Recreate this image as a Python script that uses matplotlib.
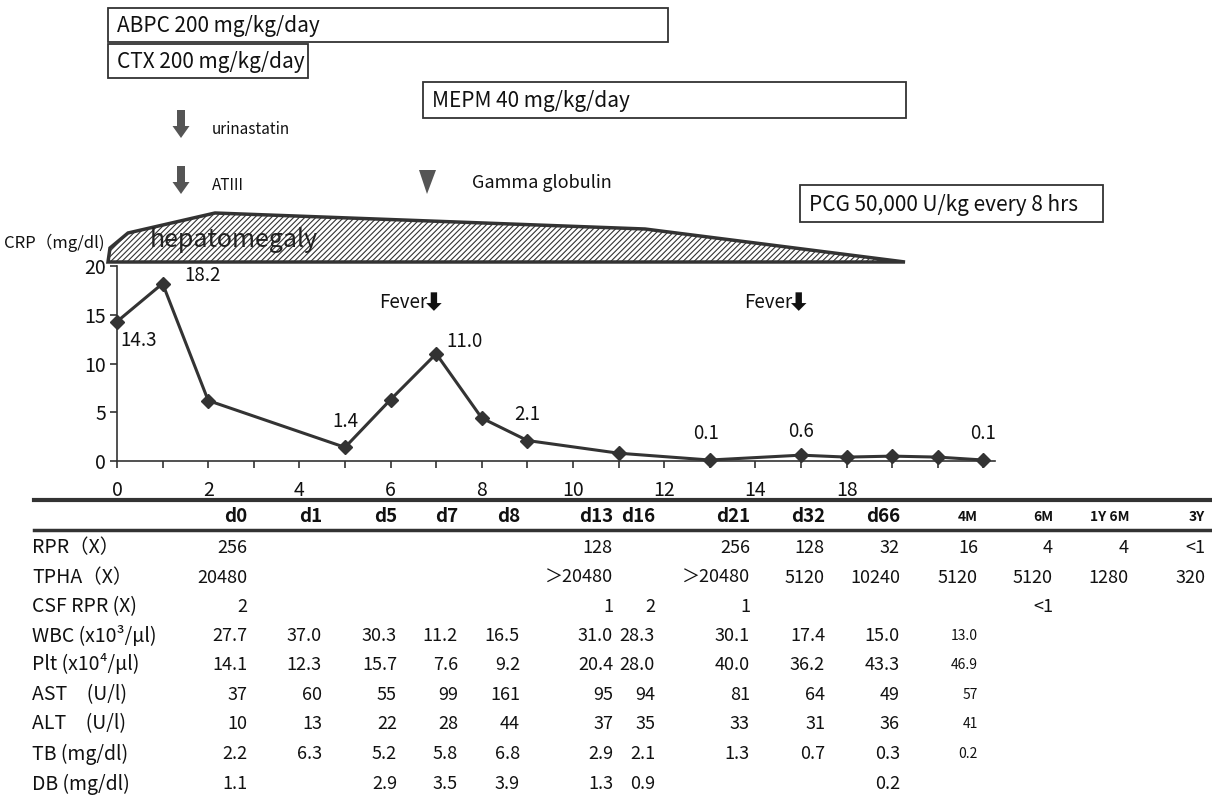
import matplotlib
matplotlib.use('Agg')
import matplotlib.pyplot as plt
from matplotlib.patches import Rectangle, Polygon, FancyArrow

plt.rcParams['font.family'] = ['Noto Sans CJK JP', 'DejaVu Sans']
plt.rcParams['hatch.linewidth'] = 0.8

# CRP course
crp_pos = [0, 1, 2, 5, 6, 7, 8, 9, 11, 13, 15, 16, 17, 18, 19]
crp_val = [14.3, 18.2, 6.2, 1.4, 6.3, 11.0, 4.4, 2.1, 0.8, 0.1, 0.6, 0.4, 0.5, 0.4, 0.1]
tick_pos = [0, 2, 4, 6, 8, 10, 12, 14, 16]
tick_lab = ['0', '2', '4', '6', '8', '10', '12', '14', '18']
labelled = {0: '14.3', 1: '18.2', 5: '1.4', 7: '11.0', 9: '2.1', 13: '0.1', 15: '0.6', 19: '0.1'}
fever_pos = [7, 15]

# lab table
cols = ['d0', 'd1', 'd5', 'd7', 'd8', 'd13', 'd16', 'd21', 'd32', 'd66', '4M', '6M', '1Y 6M', '3Y']
row_names = ['RPR（X）', 'TPHA（X）', 'CSF RPR (X)', 'WBC (x10³/μl)', 'Plt (x10⁴/μl)',
             'AST\u3000(U/l)', 'ALT\u3000(U/l)', 'TB (mg/dl)', 'DB (mg/dl)']
rpr = ['256', '', '', '', '', '128', '', '256', '128', '32', '16', '4', '4', '<1']
tpha = ['20480', '', '', '', '', '＞20480', '', '＞20480', '5120', '10240', '5120', '5120', '1280', '320']
csf = ['2', '', '', '', '', '1', '2', '1', '', '', '', '<1', '', '']
wbc = ['27.7', '37.0', '30.3', '11.2', '16.5', '31.0', '28.3', '30.1', '17.4', '15.0', '13.0', '', '', '']
plt_ = ['14.1', '12.3', '15.7', '7.6', '9.2', '20.4', '28.0', '40.0', '36.2', '43.3', '46.9', '', '', '']
ast = ['37', '60', '55', '99', '161', '95', '94', '81', '64', '49', '57', '', '', '']
alt = ['10', '13', '22', '28', '44', '37', '35', '33', '31', '36', '41', '', '', '']
tb = ['2.2', '6.3', '5.2', '5.8', '6.8', '2.9', '2.1', '1.3', '0.7', '0.3', '0.2', '', '', '']
db = ['1.1', '', '2.9', '3.5', '3.9', '1.3', '0.9', '', '', '0.2', '', '', '', '']
table_rows = [rpr, tpha, csf, wbc, plt_, ast, alt, tb, db]

# layout (pixels)
col_x = [247, 322, 397, 458, 520, 613, 655, 750, 825, 900, 978, 1053, 1129, 1205]
row_y = [548, 578, 607, 636, 665, 695, 724, 754, 784]
W, H = 1212, 796
dark = '#333333'
ink = '#111111'

fig = plt.figure(figsize=(W / 100, H / 100), dpi=100)
ov = fig.add_axes([0, 0, 1, 1])
ov.set_xlim(0, W)
ov.set_ylim(H, 0)
ov.axis('off')

# treatment boxes
boxes = [(108, 8, 668, 42, 'ABPC 200 mg/kg/day'),
         (108, 44, 308, 78, 'CTX 200 mg/kg/day'),
         (423, 82, 906, 118, 'MEPM 40 mg/kg/day'),
         (800, 185, 1103, 222, 'PCG 50,000 U/kg every 8 hrs')]
for x0, y0, x1, y1, txt in boxes:
    ov.add_patch(Rectangle((x0, y0), x1 - x0, y1 - y0, fill=False, ec=dark, lw=1.3))
    ov.text(x0 + 9, (y0 + y1) / 2 + 1, txt, fontsize=15, va='center', ha='left', color=ink)

# drug arrows
for y0, txt in [(110, 'urinastatin'), (166, 'ATIII')]:
    ov.add_patch(FancyArrow(181, y0, 0, 28, width=8, head_width=17, head_length=12,
                            length_includes_head=True, color='#555555', lw=0))
    ov.text(212, y0 + 20, txt, fontsize=11, va='center', color=ink)
ov.add_patch(Polygon([(419, 170), (436, 170), (427, 194)], closed=True, color='#555555', lw=0))
ov.text(472, 183, 'Gamma globulin', fontsize=13, va='center', color=ink)

# hepatomegaly band
band = [(108, 262), (110, 248), (128, 233), (215, 213), (430, 221), (645, 229), (905, 262)]
ov.add_patch(Polygon(band, closed=True, fc='white', ec=dark, lw=2.5, hatch='//////'))
ov.text(150, 240, 'hepatomegaly', fontsize=18, va='center', color='#222222')
ov.text(4, 243, 'CRP（mg/dl)', fontsize=12, va='center', color=ink)

# CRP chart
x_left, x_unit = 117, 45.6
y_top, y_bot = 266, 461
xmax = 19.25
ax = fig.add_axes([x_left / W, 1 - y_bot / H, xmax * x_unit / W, (y_bot - y_top) / H])
ax.patch.set_alpha(0)
ax.plot(crp_pos, crp_val, color=dark, lw=2.2, marker='D', ms=7.5, mfc=dark, mec=dark, clip_on=False)
ax.set_xlim(0, xmax)
ax.set_ylim(0, 20)
ax.set_xticks(range(0, 20))
ax.set_xticklabels([tick_lab[tick_pos.index(i)] if i in tick_pos else '' for i in range(20)])
ax.set_yticks([0, 5, 10, 15, 20])
ax.tick_params(direction='out', length=5, width=1.2, color=dark, labelsize=14, pad=3, labelcolor=ink)
ax.tick_params(axis='x', pad=9)
for s in ['top', 'right']:
    ax.spines[s].set_visible(False)
for s in ['left', 'bottom']:
    ax.spines[s].set_color(dark)
    ax.spines[s].set_linewidth(1.2)

offsets = {0: (22, -19), 1: (40, 8), 5: (0, 26), 7: (28, 12), 9: (0, 26), 13: (-4, 27), 15: (0, 24), 19: (0, 27)}
for p, lab in labelled.items():
    v = crp_val[crp_pos.index(p)]
    ax.annotate(lab, (p, v), xytext=offsets[p], textcoords='offset pixels',
                ha='center', va='center', fontsize=13.5, color=ink, annotation_clip=False)

for fp in fever_pos:
    ax.text(fp - 0.2, 16.3, 'Fever', ha='right', va='center', fontsize=13.5, color=ink)
    ax.add_patch(FancyArrow(fp - 0.05, 17.3, 0, -1.9, width=0.14, head_width=0.34, head_length=0.8,
                            length_includes_head=True, color=ink, lw=0, clip_on=False))

# table
ov.plot([34, W], [500, 500], color=dark, lw=3)
ov.plot([34, W], [530, 530], color=dark, lw=2.5)
for c, x in zip(cols, col_x):
    small = c in ['4M', '6M', '1Y 6M', '3Y']
    ov.text(x, 517, c, ha='right', va='center', fontweight='bold',
            fontsize=10 if small else 13.5, color=ink)
for name, vals, y in zip(row_names, table_rows, row_y):
    ov.text(32, y, name, ha='left', va='center', fontsize=14, color=ink)
    for j, (v, x) in enumerate(zip(vals, col_x)):
        if v:
            ov.text(x, y, v, ha='right', va='center', fontsize=10 if (cols[j] == '4M' and y > 620) else 13,
                    color=ink)

fig.savefig('out.png', dpi=100)
